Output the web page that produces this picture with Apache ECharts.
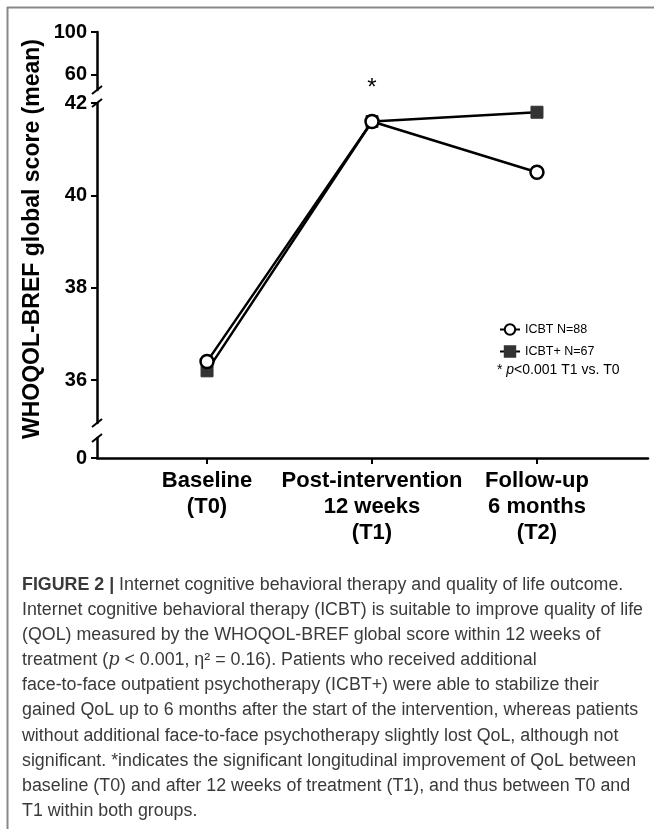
<!DOCTYPE html>
<html><head><meta charset="utf-8">
<script src="https://cdn.jsdelivr.net/npm/echarts@6/dist/echarts.min.js"></script>
<style>html,body{margin:0;padding:0;background:#fff}#c{width:654px;height:829px}</style>
</head><body><div id="c"></div>
<script>
// ---- data ----
const categories = ['Baseline\n(T0)', 'Post-intervention\n12 weeks\n(T1)', 'Follow-up\n6 months\n(T2)'];
const icbt = [36.4, 41.6, 40.5];
const icbtPlus = [36.2, 41.6, 41.8];
const seriesNames = ['ICBT N=88', 'ICBT+ N=67'];
const topTicks = [60, 100];
const mainTicks = [36, 38, 40, 42];
const bottomTicks = [0];
const yTitle = 'WHOQOL-BREF global score (mean)';
const sigNote = '{n|* }{i|p}{n|<0.001 T1 vs. T0}';
const captionLines = [
  '{b|FIGURE 2 |} Internet cognitive behavioral therapy and quality of life outcome.',
  'Internet cognitive behavioral therapy (ICBT) is suitable to improve quality of life',
  '(QOL) measured by the WHOQOL-BREF global score within 12 weeks of',
  'treatment ({i|p} < 0.001, η² = 0.16). Patients who received additional',
  'face-to-face outpatient psychotherapy (ICBT+) were able to stabilize their',
  'gained QoL up to 6 months after the start of the intervention, whereas patients',
  'without additional face-to-face psychotherapy slightly lost QoL, although not',
  'significant. *indicates the significant longitudinal improvement of QoL between',
  'baseline (T0) and after 12 weeks of treatment (T1), and thus between T0 and',
  'T1 within both groups.'
];

const F = '"Liberation Sans", Arial, Helvetica, sans-serif';
const XMIN = -0.667, XMAX = 2.673;
const axisLineStyle = {color: '#000', width: 2.5};

function yAx(grid, min, max, ticks) {
  return {
    type: 'value', gridIndex: grid, min: min, max: max,
    splitLine: {show: false},
    axisLine: {show: true, onZero: false, lineStyle: axisLineStyle},
    axisTick: {show: true, length: 6, lineStyle: {width: 2, color: '#000'}, customValues: ticks},
    axisLabel: {customValues: ticks, fontSize: 20, fontWeight: 'bold', color: '#000', fontFamily: F, margin: 10}
  };
}
function xAx(grid, show) {
  return {
    type: 'value', gridIndex: grid, min: XMIN, max: XMAX, show: show,
    splitLine: {show: false},
    axisLine: {show: true, onZero: false, lineStyle: axisLineStyle},
    axisTick: {show: true, length: 6, lineStyle: {width: 2, color: '#000'}, customValues: [0, 1, 2]},
    axisLabel: {
      customValues: [0, 1, 2], formatter: function (v) { return categories[Math.round(v)]; },
      fontSize: 22, fontWeight: 'bold', color: '#000', fontFamily: F, lineHeight: 26, margin: 10
    }
  };
}

const chart = echarts.init(document.getElementById('c'));
chart.setOption({
  animation: false,
  grid: [
    {left: 97, right: 6, top: 32, height: 58},
    {left: 97, right: 6, top: 103, height: 320},
    {left: 97, right: 6, top: 438, height: 20}
  ],
  xAxis: [xAx(0, false), xAx(1, false), xAx(2, true)],
  yAxis: [yAx(0, 46, 100, topTicks), yAx(1, 35.07, 42, mainTicks), yAx(2, 0, 1, bottomTicks)],
  legend: {
    data: seriesNames, orient: 'vertical', left: 494, top: 318,
    itemWidth: 20, itemHeight: 13, itemGap: 9,
    textStyle: {fontSize: 12.5, color: '#000', fontFamily: F}
  },
  series: [
    {
      type: 'line', name: seriesNames[1], xAxisIndex: 1, yAxisIndex: 1,
      data: icbtPlus.map(function (v, i) { return [i, v]; }),
      symbol: 'rect', symbolSize: 12, z: 2,
      lineStyle: {color: '#000', width: 2.5},
      itemStyle: {color: '#333', borderColor: '#333', borderWidth: 1}
    },
    {
      type: 'line', name: seriesNames[0], xAxisIndex: 1, yAxisIndex: 1,
      data: icbt.map(function (v, i) { return [i, v]; }),
      symbol: 'circle', symbolSize: 13, z: 3,
      lineStyle: {color: '#000', width: 2.5},
      itemStyle: {color: '#fff', borderColor: '#000', borderWidth: 2.5}
    }
  ]
});

// ---- decorations computed from the axes ----
const g = [];
g.push({type: 'line', shape: {x1: 7, y1: 7.5, x2: 654, y2: 7.5}, style: {stroke: '#888', lineWidth: 2}});
g.push({type: 'line', shape: {x1: 7.5, y1: 7, x2: 7.5, y2: 829}, style: {stroke: '#888', lineWidth: 2}});

const ends = [
  chart.convertToPixel({gridIndex: 0}, [XMIN, 46]),
  chart.convertToPixel({gridIndex: 1}, [XMIN, 42]),
  chart.convertToPixel({gridIndex: 1}, [XMIN, 35.07]),
  chart.convertToPixel({gridIndex: 2}, [XMIN, 1])
];
ends.forEach(function (p) {
  g.push({type: 'line', z: 10, shape: {x1: p[0] - 5, y1: p[1] + 4, x2: p[0] + 5, y2: p[1] - 4},
    style: {stroke: '#000', lineWidth: 2}});
});

const star = chart.convertToPixel({gridIndex: 1}, [1, 42.4]);
g.push({type: 'text', x: star[0], y: star[1] + 4,
  style: {text: '*', font: '24px ' + F, fill: '#000', align: 'center', verticalAlign: 'middle',
    textAlign: 'center', textVerticalAlign: 'middle'}});

g.push({type: 'text', x: 33, y: 239, rotation: Math.PI / 2,
  style: {text: yTitle, font: 'bold 23px ' + F, fill: '#000', align: 'center', verticalAlign: 'middle',
    textAlign: 'center', textVerticalAlign: 'middle'}});

g.push({type: 'text', x: 497, y: 370,
  style: {text: sigNote, fill: '#000', verticalAlign: 'middle', textVerticalAlign: 'middle',
    rich: {n: {fontSize: 14, fontFamily: F, color: '#000'}, i: {fontSize: 14, fontFamily: F, fontStyle: 'italic', color: '#000'}}}});

captionLines.forEach(function (t, i) {
  g.push({type: 'text', x: 22, y: 585 + i * 25.1, scaleX: 0.99,
    style: {text: t, fill: '#3a3a3a', verticalAlign: 'middle', textVerticalAlign: 'middle',
      rich: {
        b: {fontSize: 18, fontFamily: F, fontWeight: 'bold', color: '#3a3a3a'},
        i: {fontSize: 18, fontFamily: '"DejaVu Serif", serif', fontStyle: 'italic', color: '#3a3a3a'}
      },
      font: '18px ' + F}});
});

chart.setOption({graphic: g});
</script>
</body></html>
